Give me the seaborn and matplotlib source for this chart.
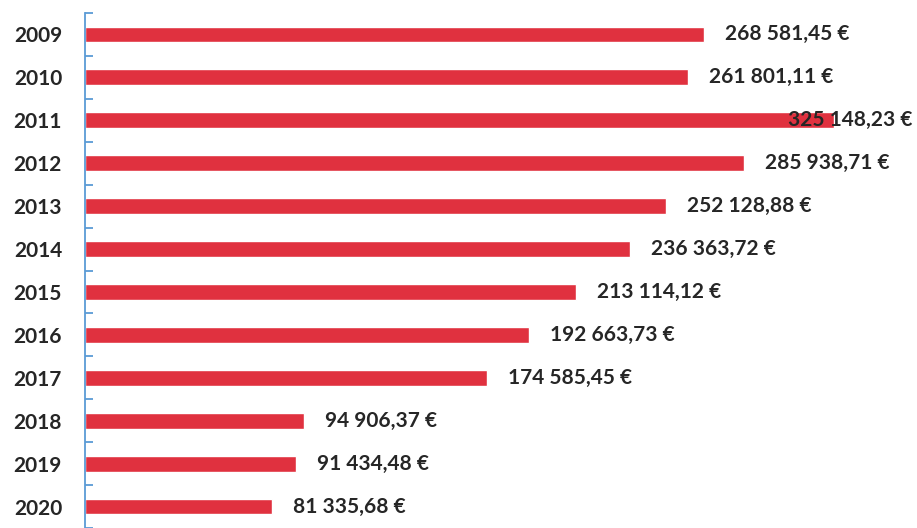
import matplotlib
matplotlib.use("Agg")
import matplotlib.pyplot as plt
import seaborn as sns
import pandas as pd
import numpy as np

years = ["2009", "2010", "2011", "2012", "2013", "2014", "2015", "2016", "2017", "2018", "2019", "2020"]
values = [268581.45, 261801.11, 325148.23, 285938.71, 252128.88, 236363.72, 213114.12,
          192663.73, 174585.45, 94906.37, 91434.48, 81335.68]
labels = ["268 581,45 €", "261 801,11 €", "325 148,23 €", "285 938,71 €", "252 128,88 €",
          "236 363,72 €", "213 114,12 €", "192 663,73 €", "174 585,45 €", "94 906,37 €",
          "91 434,48 €", "81 335,68 €"]

df = pd.DataFrame({"year": years, "value": values})

sns.set_theme(style="white")
plt.rcParams["font.family"] = ["Lato", "DejaVu Sans"]

fig = plt.figure(figsize=(9.17, 5.28), dpi=100)
ax = fig.add_axes([85 / 917, 0, 1 - 85 / 917, (528 - 13) / 528])

bar_color = "#e0313f"
sns.barplot(data=df, x="value", y="year", orient="h", color=bar_color,
            width=0.37, saturation=1, ax=ax)

xmax = 361000
ax.set_xlim(0, xmax)
ax.set_ylim(11.39, -0.5)

for s in ["top", "right", "bottom"]:
    ax.spines[s].set_visible(False)
ax.spines["left"].set_color("#5b9bd5")
ax.spines["left"].set_linewidth(1.3)

txt_color = "#262626"
fs = 15
ax.set_xticks([])
ax.set_xlabel("")
ax.set_ylabel("")
ax.set_yticks(range(len(years)))
ax.set_yticklabels(years, fontsize=fs, color=txt_color, fontweight="bold")
ax.tick_params(axis="y", which="major", left=False, length=0, pad=16.5)
ax.set_yticks(np.arange(-0.5, len(years), 1), minor=True)
ax.tick_params(axis="y", which="minor", left=True, direction="in", length=6,
               width=1.3, color="#5b9bd5")

offset = 9100
for i, (v, lab) in enumerate(zip(values, labels)):
    x = v + offset
    if x / xmax > 0.9:
        ax.text(0.995, i, lab, transform=ax.get_yaxis_transform(), ha="right", va="center",
                fontsize=fs, color=txt_color, fontweight="bold")
    else:
        ax.text(x, i, lab, ha="left", va="center", fontsize=fs, color=txt_color,
                fontweight="bold")

fig.savefig("out.png", dpi=100)
